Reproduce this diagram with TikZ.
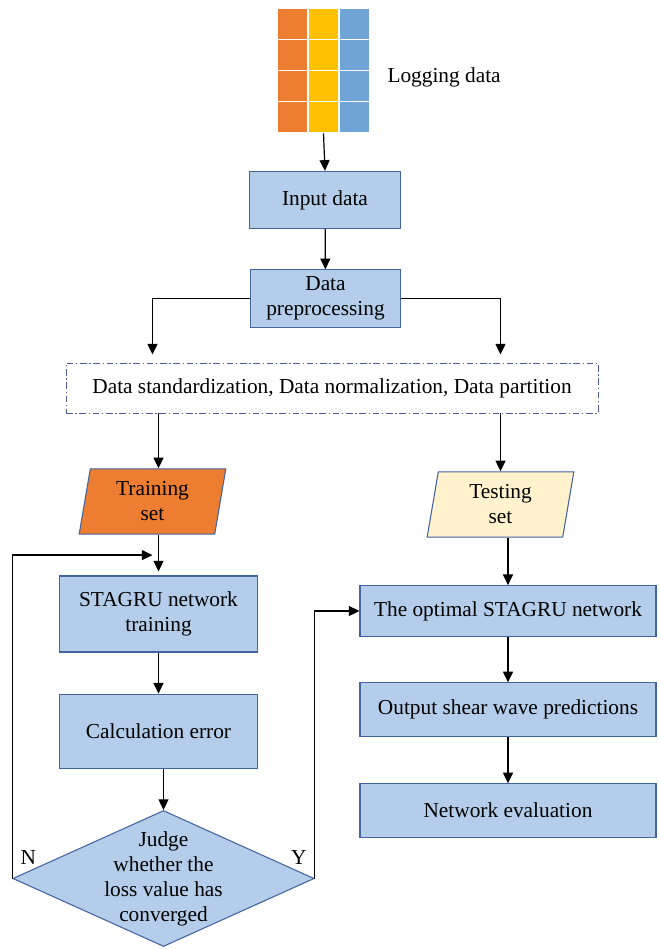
\documentclass[tikz,border=0pt]{standalone}
\usepackage{fontspec}
\setmainfont{Liberation Serif}
\usetikzlibrary{arrows.meta,calc,positioning,shapes.geometric}
\definecolor{boxblue}{RGB}{180,205,234}
\definecolor{boxedge}{RGB}{68,100,160}
\definecolor{cellorange}{RGB}{237,125,49}
\definecolor{cellyellow}{RGB}{255,192,0}
\definecolor{cellblue}{RGB}{112,164,214}
\definecolor{testcream}{RGB}{255,242,204}
\definecolor{dashedge}{RGB}{80,92,150}
\tikzset{
  texto/.style={
    font=\fontsize{16}{18.75}\selectfont,
    align=center
  },
  bloque/.style={
    texto,
    draw=boxedge,
    fill=boxblue,
    line width=.8pt,
    inner sep=3pt
  },
  conjunto/.style={
    texto,
    trapezium,
    trapezium left angle=76,
    trapezium right angle=104,
    trapezium stretches body,
    draw=boxedge,
    line width=.8pt,
    minimum width=110pt,
    minimum height=49pt,
    inner sep=2pt
  },
  decision/.style={
    diamond,
    draw=boxedge,
    fill=boxblue,
    line width=.8pt,
    minimum width=226pt,
    minimum height=102pt,
    inner sep=0pt
  },
  nota/.style={
    texto,
    draw=dashedge,
    dash pattern=on 5pt off 2pt on 1pt off 2pt,
    line width=.7pt,
    minimum width=399pt,
    minimum height=37.5pt
  },
  cell/.style={
    draw=white,
    line width=1.2pt,
    minimum size=23.25pt,
    inner sep=0pt
  },
  arrow/.style={
    -{Triangle[length=8pt,width=7.5pt]},
    line width=.9pt,
    black
  }
}

\begin{document}
\begin{tikzpicture}[x=.75pt,y=-.75pt]
\useasboundingbox (0,0) rectangle (660,949);
% logging data table
\foreach \col/\colr in {1/cellorange,2/cellyellow,3/cellblue}
  \foreach \row in {1,...,4}
    \node[cell,fill=\colr] (c-\col-\row) at (261.5+31*\col,-7+31*\row) {};
\node[texto,right=9pt of c-3-2.south east,yshift=-4.5pt] (logging) {Logging data};

\node[bloque,minimum width=113pt,minimum height=43pt] (input) at (325,200) {Input data};
\node[bloque,minimum width=112pt,minimum height=43pt] (prep) at (325.5,298.5) {Data\\preprocessing};
\node[nota] (nota) at (332,388) {Data standardization, Data normalization, Data partition};

\node[conjunto,fill=cellorange] (train) at (152.5,501.5) {Training\\set};
\node[conjunto,fill=testcream] (test) at (500.5,504.5) {Testing\\set};

\node[bloque,minimum width=148pt,minimum height=57pt] (stagru) at (158.5,614) {STAGRU network\\training};
\node[bloque,minimum width=148pt,minimum height=56pt] (calc) at (158.5,731.5) {Calculation error};
\node[decision] (judge) at (163.5,878.5) {};
\node[texto] (judgetext) at (judge) {Judge\\whether the\\loss value has\\converged};
\node[texto,inner sep=0pt,above right=10pt and 6pt of judge.west] (no) {N};
\node[texto,inner sep=0pt,above left=10pt and 6pt of judge.east] (yes) {Y};

\node[bloque,minimum width=222pt,minimum height=38pt] (optimal) at (508,611) {The optimal STAGRU network};
\node[bloque,minimum width=222pt,minimum height=40pt] (output) at (508,709.5) {Output shear wave predictions};
\node[bloque,minimum width=222pt,minimum height=40pt] (evaluate) at (508,810.5) {Network evaluation};

\coordinate (retorno) at ($(train.south -| stagru.north)!0.5!(stagru.north)$);

\draw[arrow] (c-2-4.south) -- (input.north);
\draw[arrow] (input) -- (prep);
\draw[arrow,shorten >=6pt] (prep.west) -| (nota.north -| train);
\draw[arrow,shorten >=6pt] (prep.east) -| (nota.north -| test);
\draw[arrow] (nota.south -| stagru) -- (train.north -| stagru);
\draw[arrow] (nota.south -| test.north) -- (test.north);
\draw[arrow,shorten >=3pt] (train.south -| stagru) -- (stagru.north);
\draw[arrow] (stagru) -- (calc);
\draw[arrow] (calc.south -| judge) -- (judge.north);
\draw[arrow,shorten >=4.5pt] (judge.west) |- (retorno);
\draw[arrow] (judge.east) |- (optimal.west);
\draw[arrow] (test.south -| optimal) -- (optimal.north);
\draw[arrow] (optimal) -- (output);
\draw[arrow] (output) -- (evaluate);
\end{tikzpicture}
\end{document}
